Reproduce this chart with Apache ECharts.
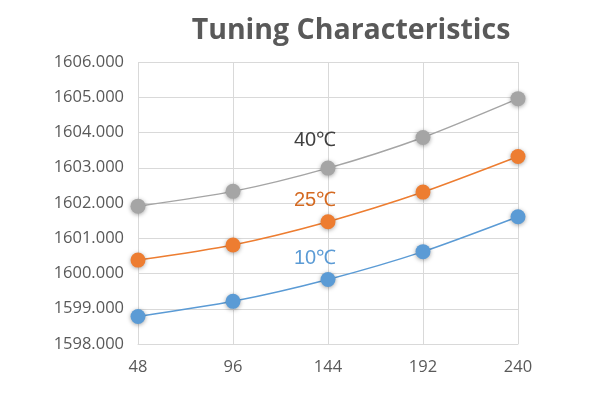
<!DOCTYPE html>
<html><head><meta charset="utf-8">
<script src="https://cdn.jsdelivr.net/npm/echarts@6/dist/echarts.min.js"></script>
<style>html,body{margin:0;padding:0;background:#fff}#c{width:600px;height:411px}</style>
</head><body><div id="c"></div>
<script>
const xValues = [48, 96, 144, 192, 240];
const temp40 = [1601.91, 1602.33, 1602.99, 1603.86, 1604.96];
const temp25 = [1600.38, 1600.81, 1601.47, 1602.31, 1603.32];
const temp10 = [1598.78, 1599.21, 1599.83, 1600.62, 1601.61];
const seriesNames = ['40℃', '25℃', '10℃'];
const seriesColors = ['#A5A5A5', '#ED7D31', '#5B9BD5'];
const labelColors = ['#404040', '#D46A22', '#5B9BD5'];

const chart = echarts.init(document.getElementById('c'));
function mk(name, vals, color, labelColor, offY) {
  return {
    name, type: 'line', smooth: 0.25,
    data: xValues.map((x, i) => [x, vals[i]]),
    symbol: 'circle', symbolSize: 15,
    lineStyle: { color, width: 1.5 },
    itemStyle: { color, shadowBlur: 4, shadowColor: 'rgba(0,0,0,0.35)', shadowOffsetY: 1 },
    markPoint: {
      symbol: 'circle', symbolSize: 0,
      data: [{ coord: [144, vals[2]] }],
      label: { show: true, formatter: name, color: labelColor, fontSize: 20,
               fontFamily: 'Liberation Sans, Arial, sans-serif', offset: [-13, offY] }
    }
  };
}
chart.setOption({
  animation: false,
  title: { text: 'Tuning Characteristics', left: 346, top: 11, textAlign: 'center',
    textStyle: { fontFamily: 'Open Sans', fontWeight: 'bold', fontSize: 28.5, color: '#595959' } },
  grid: { left: 138, right: 82, top: 62, bottom: 67 },
  xAxis: { type: 'value', min: 48, max: 240, interval: 48,
    axisLine: { lineStyle: { color: '#D9D9D9' } }, axisTick: { show: false },
    splitLine: { show: true, lineStyle: { color: '#D9D9D9' } },
    axisLabel: { color: '#595959', fontSize: 16.5, margin: 15, fontFamily: 'Open Sans' } },
  yAxis: { type: 'value', min: 1598, max: 1606, interval: 1,
    axisLine: { show: false }, axisTick: { show: false },
    splitLine: { lineStyle: { color: '#D9D9D9' } },
    axisLabel: { color: '#595959', fontSize: 16.5, margin: 14, fontFamily: 'Open Sans',
      formatter: v => v.toFixed(3) } },
  series: [
    mk(seriesNames[0], temp40, seriesColors[0], labelColors[0], -28),
    mk(seriesNames[1], temp25, seriesColors[1], labelColors[1], -21),
    mk(seriesNames[2], temp10, seriesColors[2], labelColors[2], -21)
  ]
});
</script></body></html>
